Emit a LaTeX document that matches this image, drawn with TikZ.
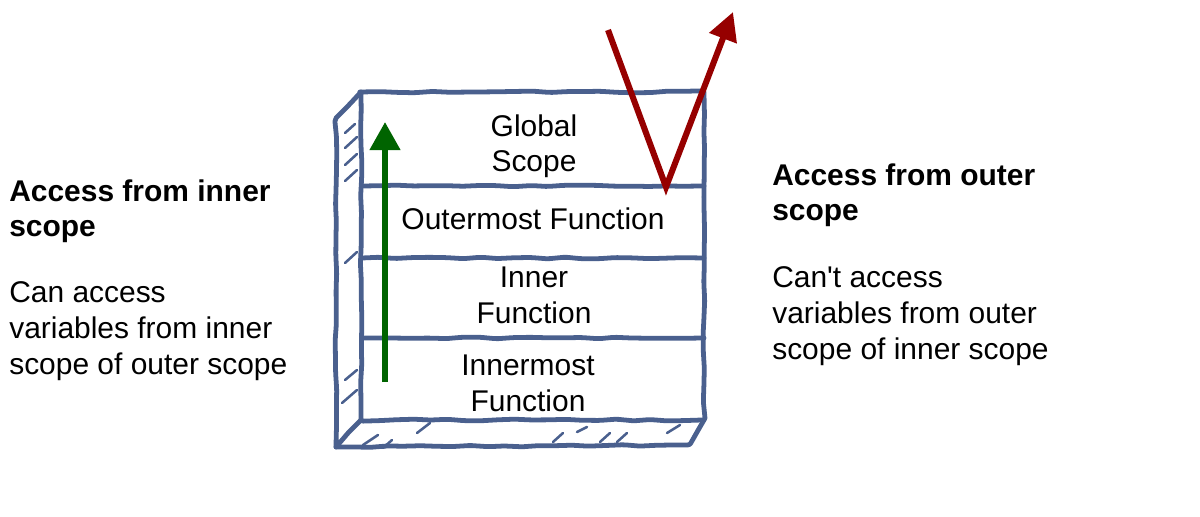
\documentclass[tikz,border=0pt]{standalone}
\usepackage{fontspec}
\setmainfont{Liberation Sans}[Ligatures=TeXOff]
\usetikzlibrary{decorations.pathmorphing,arrows.meta}
\definecolor{boxblue}{RGB}{74,96,142}
\definecolor{upgreen}{RGB}{0,100,0}
\definecolor{downred}{RGB}{150,0,0}
\begin{document}
\pgfmathsetseed{7}
\begin{tikzpicture}[x=0.025cm,y=-0.025cm,
  sketch/.style={draw=boxblue,line width=3.4pt,line cap=round,line join=round,
    decorate,decoration={random steps,segment length=12pt,amplitude=0.6pt},rounded corners=1.5pt},
  hatch/.style={draw=boxblue,line width=1.8pt,line cap=round},
  layer/.style={font=\fontsize{21.3}{25.5}\selectfont,align=center,inner sep=0pt,anchor=base},
  note/.style={font=\fontsize{21.3}{25.5}\selectfont,align=left,inner sep=0pt,anchor=base west}]
\useasboundingbox (0,0) rectangle (1200,517);
% the box, front face, side face and bottom face
\draw [sketch] (361,92) rectangle (704,420);
\draw [sketch] (361,92) -- (336,118) -- (336,447) -- (361,420);
\draw [sketch] (336,447) -- (688,445) -- (704,420);
\draw [sketch] (362,186) -- (704,186);
\draw [sketch] (362,258) -- (704,258);
\draw [sketch] (362,338) -- (704,338);
% hatching
\foreach \x/\y/\u/\v in {345/133/355/124, 345/148/357/137, 345/165/357/154, 345/181/357/170,
  345/263/357/252, 345/380/357/370, 342/403/357/390,
  417/433/430/423, 363/445/378/435, 383/448/392/440, 553/442/563/433,
  577/432/587/427, 600/442/610/433, 617/442/627/433, 667/433/680/425}
  \draw [hatch] (\x,\y) -- (\u,\v);
% layers (base = last line)
\node [layer] (global) at (534,172) {Global\\Scope};
\node [layer] (outermost) at (533,230) {Outermost Function};
\node [layer] (inner) at (534,323) {Inner\\Function};
\node [layer] (innermost) at (528,411) {Innermost\\Function};
% arrows
\coordinate (gstart) at (385,382);
\coordinate (gend) at (385,122);
\draw [upgreen, line width=4.3pt, -{Triangle[length=20pt,width=21pt]}] (gstart) -- (gend);
\coordinate (rstart) at (608,30);
\coordinate (rturn) at (666,187);
\coordinate (rend) at (733,12);
\draw [downred, line width=4.3pt, line join=miter, -{Triangle[length=20pt,width=20pt]}] (rstart) -- (rturn) -- (rend);
% side notes
\node [note] (innerhead) at (9,237) {\bfseries Access from inner\\\bfseries scope};
\node [note] (innertext) at (9,374) {Can access\\variables from inner\\scope of outer scope};
\node [note] (outerhead) at (772,221) {\bfseries Access from outer\\\bfseries scope};
\node [note] (outertext) at (772,359) {Can't access\\variables from outer\\scope of inner scope};
\end{tikzpicture}
\end{document}
